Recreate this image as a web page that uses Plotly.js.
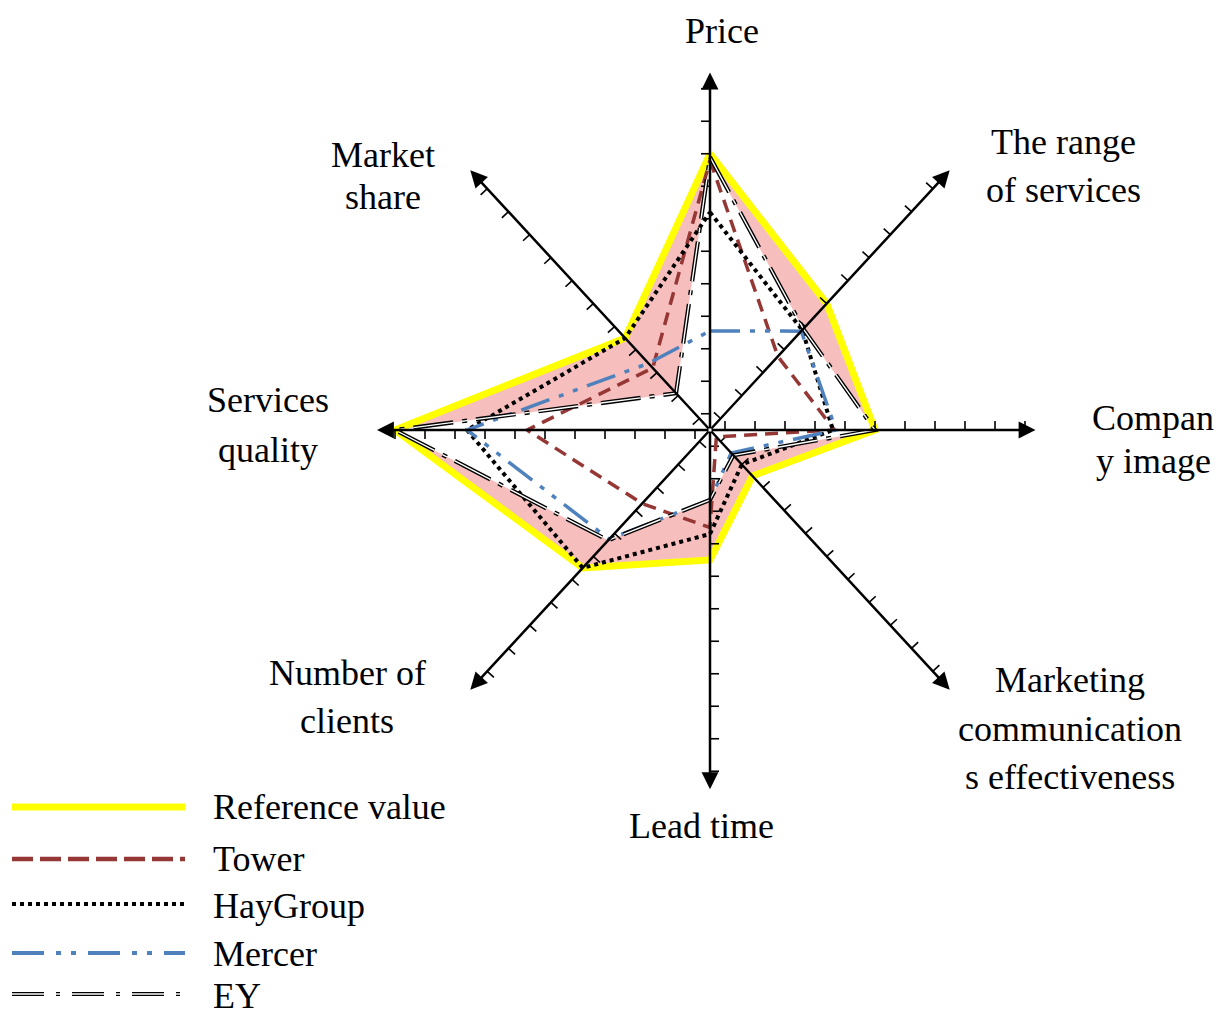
<!DOCTYPE html>
<html>
<head>
<meta charset="utf-8">
<script src="https://cdn.plot.ly/plotly-3.0.1.min.js"></script>
<style>
  html, body { margin: 0; padding: 0; background: #fff; }
  #chart { width: 1220px; height: 1015px; }
</style>
</head>
<body>
<div id="chart"></div>
<script>
// spokes of the radar, clockwise from the top
const categories = ["Price", "The range of services", "Company image",
    "Marketing communications effectiveness", "Lead time", "Number of clients",
    "Services quality", "Market share"];
const spokeAngles = [90, 45, 0, -45, -90, -135, 180, 135];

// scores (one per spoke)
const referenceValue = [9, 6, 6, 2.5, 4.5, 6.5, 11, 4.5];
const tower          = [8.8, 3.7, 4.65, 0.8, 3.5, 3.7, 6.6, 3.2];
const hayGroup       = [7.2, 4.85, 4.6, 2.0, 3.7, 6.5, 8.6, 4.5];
const mercer         = [3.55, 4.8, 4.7, 1.5, 2.65, 5.25, 8.6, 3.4];
const ey             = [8.9, 4.9, 6, 1.6, 2.65, 5.3, 11, 2.1];

const tickValues = [1, 2, 3, 4, 5, 6, 7, 8, 9, 10, 11];

const axisLabels = [["Price"], ["The range", "of services"], ["Compan", "y image"],
    ["Marketing", "communication", "s effectiveness"], ["Lead time"],
    ["Number of", "clients"], ["Services", "quality"], ["Market", "share"]];
const legendNames = ["Reference value", "Tower", "HayGroup", "Mercer", "EY"];

/* -----------------------------
   Geometry
------------------------------*/
const W = 1220, H = 1015;
const CX = 710, CY = 430;          // centre of the star, px
const SX = 30, SY = 32.5;          // px per unit
const CENTER_VALUE = 0.5;          // the value sitting at the centre
const AXIS_LEN = [11, 11.3, 10.85, 11.3, 11.05, 11.3, 11.1, 11.3];
const TICK_PX = 9;

const rad = a => a * Math.PI / 180;

function toXY(v, ang) {
    const d = v - CENTER_VALUE;
    return [d * Math.cos(rad(ang)), d * Math.sin(rad(ang))];
}

function polygon(vals) {
    const x = [], y = [];
    vals.forEach((v, i) => {
        const p = toXY(v, spokeAngles[i]);
        x.push(p[0]); y.push(p[1]);
    });
    x.push(x[0]); y.push(y[0]);
    return { x, y };
}

// tick marks stick out on the counter-clockwise side of every spoke
function tickSegments() {
    const x = [], y = [];
    spokeAngles.forEach(ang => {
        let ux = Math.cos(rad(ang)) * SX, uy = Math.sin(rad(ang)) * SY;
        const n = Math.hypot(ux, uy); ux /= n; uy /= n;
        const px = -uy, py = ux;
        tickValues.forEach(t => {
            const b = toXY(t, ang);
            x.push(b[0], b[0] + TICK_PX * px / SX, null);
            y.push(b[1], b[1] + TICK_PX * py / SY, null);
        });
    });
    return { x, y };
}

/* -----------------------------
   Traces
------------------------------*/
const refP = polygon(referenceValue);
const eyP  = polygon(ey);
const ticks = tickSegments();

const TOWER_DASH  = "13px,8px";
const HAY_DASH    = "4px,4px";
const MERCER_DASH = "30px,10px,5px,10px,5px,10px";
const EY_DASH     = "40px,9px,5px,9px";

const traces = [
    { x: refP.x, y: refP.y, mode: "lines", line: { width: 0, color: "rgba(0,0,0,0)" } },
    { x: eyP.x, y: eyP.y, mode: "lines", fill: "tonext", fillcolor: "rgb(247,190,190)",
      line: { width: 0, color: "rgba(0,0,0,0)" } },
    Object.assign({ mode: "lines", line: { color: "#FFFF00", width: 7 } }, polygon(referenceValue)),
    { x: ticks.x, y: ticks.y, mode: "lines", line: { color: "#000", width: 1.6 } },
    Object.assign({ mode: "lines", line: { color: "#953735", width: 3.5, dash: TOWER_DASH } }, polygon(tower)),
    Object.assign({ mode: "lines", line: { color: "#000", width: 4, dash: HAY_DASH } }, polygon(hayGroup)),
    Object.assign({ mode: "lines", line: { color: "#4F81BD", width: 3.5, dash: MERCER_DASH } }, polygon(mercer)),
    Object.assign({ mode: "lines", line: { color: "#000", width: 4.2, dash: EY_DASH } }, polygon(ey)),
    Object.assign({ mode: "lines", line: { color: "#fff", width: 1.4, dash: EY_DASH } }, polygon(ey))
];
traces.forEach(t => { t.hoverinfo = "skip"; t.showlegend = false; });

/* -----------------------------
   Axis arrows, labels, legend
------------------------------*/
const FONT = { family: "Liberation Serif, Times New Roman, serif", size: 36, color: "#000" };
const annotations = [];

spokeAngles.forEach((ang, i) => {
    const tip = toXY(AXIS_LEN[i] + CENTER_VALUE, ang);
    annotations.push({
        x: tip[0], y: tip[1], ax: 0, ay: 0, xref: "x", yref: "y", axref: "x", ayref: "y",
        text: "", showarrow: true, arrowhead: 2, arrowsize: 1.35, arrowwidth: 2.5,
        arrowcolor: "#000", standoff: 0, startstandoff: 0
    });
});

// label centres in px: [x, [y of each line]]
const labelPos = [
    [722, [31]], [1063, [142, 190]], [1153, [418, 461]], [1070, [680, 729, 777]],
    [701, [826]], [347, [673, 721]], [268, [400, 450]], [383, [155, 197]]
];
const px2paper = (x, y) => [x / W, 1 - y / H];

axisLabels.forEach((lines, i) => {
    lines.forEach((txt, j) => {
        const p = px2paper(labelPos[i][0], labelPos[i][1][j]);
        annotations.push({ x: p[0], y: p[1], xref: "paper", yref: "paper", text: txt,
            showarrow: false, xanchor: "center", yanchor: "middle", font: FONT });
    });
});

// legend, drawn by hand
const legendRows = [807, 859, 904, 953, 994];
const legendTextY = [807, 859, 906, 954, 996];
const legendStyles = [
    { color: "#FFFF00", width: 7 },
    { color: "#953735", width: 4.5, dash: "21px,7px" },
    { color: "#000", width: 4, dash: "4px,4px" },
    { color: "#4F81BD", width: 4, dash: "32px,12px,5px,10px,5px,12px" },
    { color: "#000", width: 4.2, dash: "32px,12px,4px,12px" }
];
const shapes = [];
legendNames.forEach((name, i) => {
    const a = px2paper(12, legendRows[i]), b = px2paper(185, legendRows[i]);
    shapes.push({ type: "line", xref: "paper", yref: "paper", x0: a[0], x1: b[0], y0: a[1], y1: b[1],
        line: legendStyles[i] });
    const t = px2paper(211, legendTextY[i]);
    annotations.push({ x: t[0], y: t[1], xref: "paper", yref: "paper", text: name,
        showarrow: false, xanchor: "left", yanchor: "middle", font: FONT });
});
{
    const a = px2paper(12, legendRows[4]), b = px2paper(185, legendRows[4]);
    shapes.push({ type: "line", xref: "paper", yref: "paper", x0: a[0], x1: b[0], y0: a[1], y1: b[1],
        line: { color: "#fff", width: 1.4, dash: "32px,12px,4px,12px" } });
}

const layout = {
    width: W, height: H,
    margin: { l: 0, r: 0, t: 0, b: 0 },
    paper_bgcolor: "#fff", plot_bgcolor: "#fff",
    showlegend: false,
    xaxis: { range: [-CX / SX, (W - CX) / SX], visible: false, fixedrange: true },
    yaxis: { range: [-(H - CY) / SY, CY / SY], visible: false, fixedrange: true },
    annotations, shapes
};

Plotly.newPlot("chart", traces, layout, { staticPlot: true, displayModeBar: false });
</script>
</body>
</html>
